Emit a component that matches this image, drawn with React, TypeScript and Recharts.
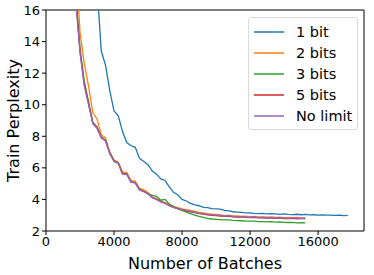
import React from "react";
import {
  LineChart,
  Line,
  XAxis,
  YAxis,
  ReferenceLine,
} from "recharts";

const batches = [
  1500, 1750, 2000, 2250, 2500, 2750, 3000, 3250, 3500, 3750,
  4000, 4250, 4500, 4750, 5000, 5250, 5500, 5750, 6000, 6250,
  6500, 6750, 7000, 7250, 7500, 7750, 8000, 8250, 8500, 8750,
  9000, 9250, 9500, 9750, 10000, 10250, 10500, 10750, 11000, 11250,
  11500, 11750, 12000, 12250, 12500, 12750, 13000, 13250, 13500, 13750,
  14000, 14250, 14500, 14750, 15000, 15250, 15500, 15750, 16000, 16250,
  16500, 16750, 17000, 17250, 17500, 17750,
];

const oneBit = [
  null, null, null, null, null, 30, 17.5, 13.4, 12.5, 10.9,
  9.6, 9.3, 8.3, 7.6, 7.4, 7.3, 6.6, 6.4, 6.2, 5.8,
  5.6, 5.3, 5.2, 4.8, 4.45, 4.3, 4.0, 3.9, 3.75, 3.65,
  3.6, 3.5, 3.48, 3.42, 3.4, 3.38, 3.3, 3.28, 3.22, 3.2,
  3.18, 3.15, 3.15, 3.12, 3.1, 3.12, 3.08, 3.1, 3.08, 3.05,
  3.08, 3.05, 3.04, 3.06, 3.03, 3.05, 3.02, 3.03, 3.0, 3.02,
  3.0, 3.01, 2.99, 3.0, 2.98, 2.99,
];

const twoBits = [
  30, 19, 14.6, 12.6, 11.2, 9.5, 9.1, 8.1, 7.9, 7.0,
  6.5, 6.35, 5.75, 5.7, 5.2, 5.15, 4.7, 4.6, 4.42, 4.15,
  4.05, 3.9, 3.8, 3.65, 3.55, 3.48, 3.4, 3.35, 3.3, 3.25,
  3.18, 3.15, 3.1, 3.06, 3.05, 3.02, 2.98, 3.0, 2.95, 2.96,
  2.93, 2.94, 2.9, 2.92, 2.89, 2.9, 2.88, 2.89, 2.86, 2.88,
  2.85, 2.86, 2.84, 2.86, 2.83, 2.84,
  null, null, null, null, null, null, null, null, null, null,
];

const threeBits = [
  30, 17, 13.6, 11.5, 10.2, 8.9, 8.6, 7.95, 7.75, 6.95,
  6.45, 6.3, 5.65, 5.6, 5.1, 5.05, 4.6, 4.5, 4.35, 4.25,
  4.2, 3.95, 4.0, 3.7, 3.55, 3.4, 3.3, 3.2, 3.1, 3.0,
  2.92, 2.86, 2.8, 2.76, 2.74, 2.72, 2.7, 2.7, 2.67, 2.66,
  2.65, 2.63, 2.62, 2.63, 2.6, 2.6, 2.58, 2.59, 2.56, 2.57,
  2.55, 2.54, 2.55, 2.52, 2.53, 2.51,
  null, null, null, null, null, null, null, null, null, null,
];

const fiveBits = [
  30, 16.8, 13.4, 11.3, 10.1, 8.85, 8.55, 7.95, 7.7, 6.95,
  6.42, 6.3, 5.62, 5.6, 5.12, 5.06, 4.62, 4.52, 4.37, 4.12,
  4.02, 3.86, 3.77, 3.6, 3.5, 3.42, 3.34, 3.28, 3.22, 3.17,
  3.1, 3.07, 3.02, 2.99, 2.97, 2.95, 2.93, 2.94, 2.9, 2.88,
  2.9, 2.86, 2.85, 2.86, 2.83, 2.84, 2.81, 2.83, 2.8, 2.81,
  2.79, 2.78, 2.8, 2.77, 2.79, 2.78,
  null, null, null, null, null, null, null, null, null, null,
];

const noLimit = [
  30, 16.5, 13.3, 11.2, 10.0, 8.8, 8.5, 7.9, 7.7, 6.9,
  6.4, 6.3, 5.6, 5.6, 5.1, 5.05, 4.6, 4.5, 4.35, 4.1,
  4.0, 3.85, 3.75, 3.6, 3.5, 3.42, 3.35, 3.3, 3.25, 3.2,
  3.12, 3.1, 3.05, 3.02, 3.0, 2.98, 2.95, 2.97, 2.92, 2.9,
  2.92, 2.88, 2.87, 2.89, 2.85, 2.86, 2.84, 2.85, 2.82, 2.84,
  2.82, 2.8, 2.83, 2.8, 2.81, 2.8,
  null, null, null, null, null, null, null, null, null, null,
];

const xTicks = [0, 4000, 8000, 12000, 16000];
const yTicks = [2, 4, 6, 8, 10, 12, 14, 16];

const series = [
  { key: "b1", name: "1 bit", color: "#1f77b4", values: oneBit },
  { key: "b2", name: "2 bits", color: "#ff7f0e", values: twoBits },
  { key: "b3", name: "3 bits", color: "#2ca02c", values: threeBits },
  { key: "b5", name: "5 bits", color: "#d62728", values: fiveBits },
  { key: "nl", name: "No limit", color: "#9467bd", values: noLimit },
];

const data = batches.map((b, i) => {
  const row: Record<string, number | null> = { batch: b };
  series.forEach((s) => {
    row[s.key] = s.values[i];
  });
  return row;
});

const font = "'DejaVu Sans', sans-serif";

// legend drawn as an overlay so it doesn't eat into the plot area
function LegendBox() {
  return (
    <div
      style={{
        position: "absolute",
        left: 248,
        top: 17,
        width: 110,
        height: 113,
        border: "1px solid #d9d9d9",
        borderRadius: 3,
        background: "rgba(255,255,255,0.8)",
        padding: "3px 0 0 5px",
        fontFamily: font,
        fontSize: 14.5,
        color: "#000",
        boxSizing: "border-box",
        whiteSpace: "nowrap",
      }}
    >
      {series.map((s) => (
        <div
          key={s.key}
          style={{ display: "flex", alignItems: "center", height: 21 }}
        >
          <svg width={30} height={4} style={{ marginRight: 12 }}>
            <line x1={0} x2={30} y1={2} y2={2} stroke={s.color} strokeWidth={1.5} />
          </svg>
          <span>{s.name}</span>
        </div>
      ))}
    </div>
  );
}

export default function App() {
  return (
    <div style={{ position: "absolute", left: 0, top: 0, width: 374, height: 275 }}>
      <LineChart
        width={374}
        height={275}
        data={data}
        margin={{ top: 10, right: 10, left: 0, bottom: 0 }}
      >
        <XAxis
          dataKey="batch"
          type="number"
          domain={[0, 18700]}
          ticks={xTicks}
          allowDataOverflow
          height={44}
          stroke="#000"
          tickSize={4}
          tick={{ fontSize: 13, fontFamily: font, fill: "#000" }}
          label={{
            value: "Number of Batches",
            position: "insideBottom",
            offset: 6,
            style: { fontSize: 16, fontFamily: font, fill: "#000" },
          }}
        />
        <YAxis
          type="number"
          domain={[2, 16]}
          ticks={yTicks}
          allowDataOverflow
          width={46}
          stroke="#000"
          tickSize={4}
          tick={{ fontSize: 13, fontFamily: font, fill: "#000" }}
          label={{
            value: "Train Perplexity",
            angle: -90,
            position: "insideLeft",
            offset: 13,
            style: {
              fontSize: 16,
              fontFamily: font,
              fill: "#000",
              textAnchor: "middle",
            },
          }}
        />
        <ReferenceLine y={16} stroke="#000" />
        <ReferenceLine x={18700} stroke="#000" />
        {series.map((s) => (
          <Line
            key={s.key}
            dataKey={s.key}
            name={s.name}
            stroke={s.color}
            strokeWidth={1.3}
            dot={false}
            type="linear"
            isAnimationActive={false}
          />
        ))}
      </LineChart>
      <LegendBox />
    </div>
  );
}
